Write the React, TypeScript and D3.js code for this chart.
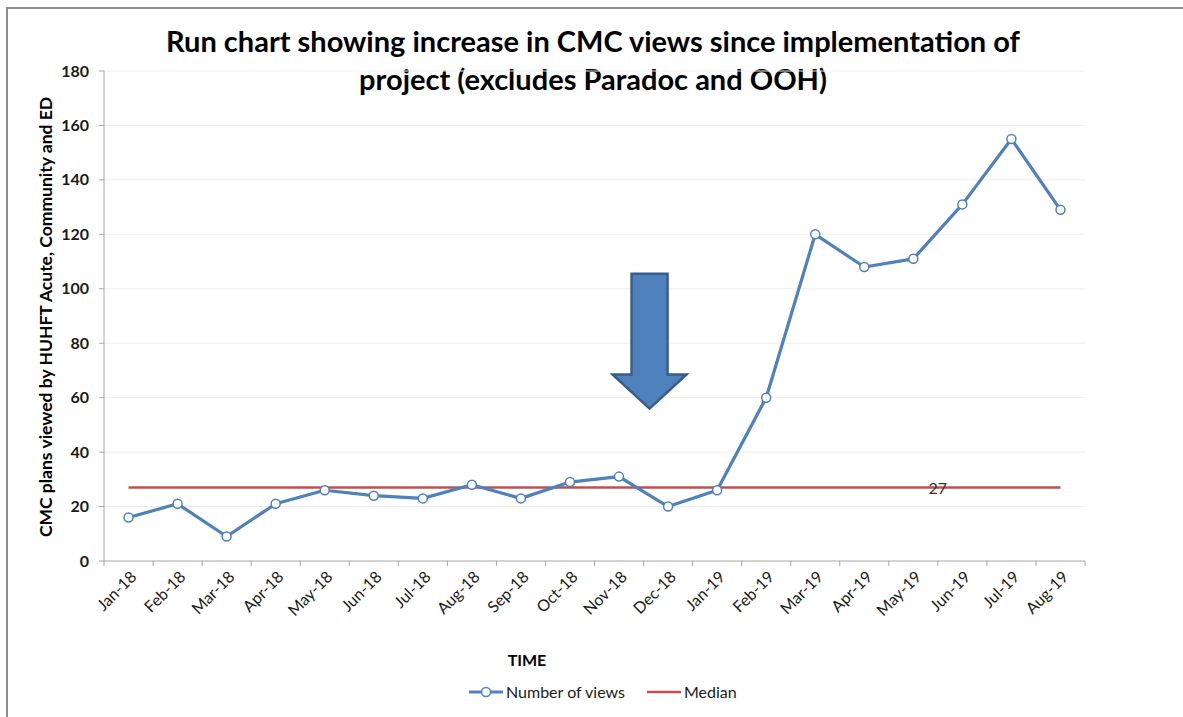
import React from 'react';
import * as d3 from 'd3';

const months = [
  'Jan-18', 'Feb-18', 'Mar-18', 'Apr-18', 'May-18', 'Jun-18', 'Jul-18', 'Aug-18', 'Sep-18', 'Oct-18',
  'Nov-18', 'Dec-18', 'Jan-19', 'Feb-19', 'Mar-19', 'Apr-19', 'May-19', 'Jun-19', 'Jul-19', 'Aug-19',
];
const views = [16, 21, 9, 21, 26, 24, 23, 28, 23, 29, 31, 20, 26, 60, 120, 108, 111, 131, 155, 129];
const median = 27;
const titleLines = [
  'Run chart showing increase in CMC views since implementation of',
  'project (excludes Paradoc and OOH)',
];

const W = 1183;
const H = 717;
const FONT = 'Lato, "Open Sans", sans-serif';
const BLUE = '#4F81BD';
const RED = '#C0504D';

export default function App() {
  const margin = { top: 71, right: 98, bottom: 156, left: 104 };

  const x = d3
    .scaleBand<string>()
    .domain(months)
    .range([margin.left, W - margin.right]);

  const y = d3
    .scaleLinear()
    .domain([0, 180])
    .range([H - margin.bottom, margin.top]);

  const cx = (m: string) => (x(m) ?? 0) + x.bandwidth() / 2;
  const yTicks = y.ticks(9);
  const xTickPos = months.map(m => x(m) ?? 0).concat([x.range()[1]]);

  const line = d3
    .line<number>()
    .x((_, i) => cx(months[i]))
    .y(d => y(d));

  // arrow annotation pointing at the project start
  const ax = (x('Dec-18') ?? 0) + 6;
  const arrow = [
    [ax - 18, y(105.5)],
    [ax + 18, y(105.5)],
    [ax + 18, y(68.5)],
    [ax + 37, y(68.5)],
    [ax, y(56)],
    [ax - 37, y(68.5)],
    [ax - 18, y(68.5)],
  ];

  const y0 = y(0);

  return (
    <svg
      width={W}
      height={H}
      style={{ position: 'absolute', left: 0, top: 0, background: '#fff' }}
      fontFamily={FONT}
    >
      {/* chart frame */}
      <path d={`M7,${H} L7,8 L${W},8`} fill="none" stroke="#8c8c8c" strokeWidth={2} />

      {/* title */}
      {titleLines.map((t, i) => (
        <text
          key={t}
          x={593}
          y={52 + i * 38}
          textAnchor="middle"
          fontSize={29}
          fontWeight="bold"
          fill="#000"
        >
          {t}
        </text>
      ))}

      {/* gridlines */}
      {yTicks.filter(t => t > 0).map(t => (
        <line key={t} x1={margin.left} x2={W - margin.right} y1={y(t)} y2={y(t)} stroke="#eeeeee" strokeWidth={1} />
      ))}

      {/* y axis */}
      <line x1={margin.left} x2={margin.left} y1={margin.top} y2={y0} stroke="#a6a6a6" strokeWidth={1} />
      {yTicks.map(t => (
        <g key={t}>
          <line x1={margin.left - 5} x2={margin.left} y1={y(t)} y2={y(t)} stroke="#a6a6a6" />
          <text x={89} y={y(t)} dy="0.35em" textAnchor="end" fontSize={16} fontWeight="bold" fill="#1a1a1a">
            {t}
          </text>
        </g>
      ))}

      {/* x axis */}
      <line x1={margin.left} x2={W - margin.right} y1={y0} y2={y0} stroke="#a6a6a6" strokeWidth={1} />
      {xTickPos.map((p, i) => (
        <line key={i} x1={p} x2={p} y1={y0} y2={y0 + 5} stroke="#a6a6a6" />
      ))}
      {months.map(m => (
        <text
          key={m}
          transform={`translate(${cx(m) + 5},${y0 + 13}) rotate(-45)`}
          textAnchor="end"
          dy="0.35em"
          fontSize={16}
          fill="#1a1a1a"
        >
          {m}
        </text>
      ))}

      {/* axis titles */}
      <text
        transform={`translate(52,317) rotate(-90)`}
        textAnchor="middle"
        fontSize={17.5}
        fontWeight="bold"
        fill="#000"
      >
        CMC plans viewed by HUHFT Acute, Community and ED
      </text>
      <text x={527} y={666} textAnchor="middle" fontSize={16} fontWeight="bold" fill="#000">
        TIME
      </text>

      {/* median line */}
      <line
        x1={cx(months[0])}
        x2={cx(months[months.length - 1])}
        y1={y(median)}
        y2={y(median)}
        stroke={RED}
        strokeWidth={2.5}
      />
      <text x={x('Jun-19') ?? 0} y={y(median) + 6} textAnchor="middle" fontSize={16} fill="#333">
        {median}
      </text>

      {/* views series */}
      <path d={line(views) ?? ''} fill="none" stroke={BLUE} strokeWidth={3.2} strokeLinejoin="round" />
      {views.map((v, i) => (
        <circle key={i} cx={cx(months[i])} cy={y(v)} r={4.5} fill="#fff" stroke={BLUE} strokeWidth={1.5} />
      ))}

      {/* arrow */}
      <polygon
        points={arrow.map(p => p.join(',')).join(' ')}
        fill={BLUE}
        stroke="#385D8A"
        strokeWidth={2.5}
        strokeLinejoin="miter"
      />

      {/* legend */}
      <g>
        <line x1={469} x2={503} y1={692} y2={692} stroke={BLUE} strokeWidth={3} />
        <circle cx={486} cy={692} r={4.5} fill="#fff" stroke={BLUE} strokeWidth={1.5} />
        <text x={506} y={692} dy="0.35em" fontSize={16} fill="#1a1a1a">
          Number of views
        </text>
        <line x1={647} x2={681} y1={692} y2={692} stroke={RED} strokeWidth={2.5} />
        <text x={684} y={692} dy="0.35em" fontSize={16} fill="#1a1a1a">
          Median
        </text>
      </g>
    </svg>
  );
}
